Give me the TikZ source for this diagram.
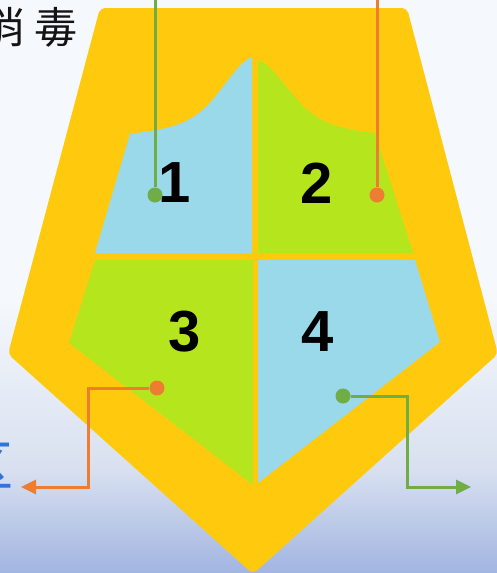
\documentclass[tikz,border=0pt]{standalone}
\usepackage{fontspec}
\usetikzlibrary{arrows.meta}
\newfontfamily\cjkfont{Noto Sans CJK TC}
\newfontfamily\numfont{Liberation Sans}
\definecolor{gold}{HTML}{FFC90E}
\definecolor{skyblue}{HTML}{99D9EA}
\definecolor{limegreen}{HTML}{B5E61D}
\definecolor{leafgreen}{HTML}{70AD47}
\definecolor{carrot}{HTML}{ED7D31}
\definecolor{bluechar}{HTML}{2F74D8}
\tikzset{
  num/.style={font=\numfont\bfseries\fontsize{58}{58}\selectfont, inner sep=0pt},
  spot/.style={circle, fill=#1, inner sep=0pt, minimum size=15pt},
  lead/.style={draw=#1, line width=3pt},
}
\begin{document}
\begin{tikzpicture}[x=1pt,y=-1pt]
\useasboundingbox (0,0) rectangle (497,573);
\clip (0,0) rectangle (497,573);

% background
\fill[color={rgb,255:red,245;green,248;blue,252}] (0,0) rectangle (497,300);
\shade[top color={rgb,255:red,245;green,248;blue,252}, bottom color={rgb,255:red,216;green,224;blue,240}] (0,299.5) rectangle (497,470);
\shade[top color={rgb,255:red,216;green,224;blue,240}, bottom color={rgb,255:red,162;green,181;blue,225}] (0,469.5) rectangle (497,573);

% frame
\fill[gold, rounded corners=5pt] (100,8) -- (407,8) -- (498,354) -- (253,574) -- (8,354) -- cycle;

% four zones
\fill[skyblue] (130,134) -- (150,131) .. controls (185,126) and (200,115) .. (215,97)
   .. controls (230,78) and (240,62) .. (252,57) -- (252,253) -- (95,253) -- cycle;
\fill[limegreen] (258,60) .. controls (270,64) and (280,80) .. (295,97)
   .. controls (310,115) and (325,126) .. (360,131) -- (375,133) -- (413,253) -- (258,253) -- cycle;
\fill[limegreen] (95,260) -- (253,260) -- (253,485) -- (69,343) -- cycle;
\fill[skyblue] (258,260) -- (415,260) -- (440,342) -- (258,483) -- cycle;

\node[num] (n1) at (175,183) {1};
\node[num] (n2) at (317,183) {2};
\node[num] (n3) at (185,332) {3};
\node[num] (n4) at (318,332) {4};

% texts
\node[font=\cjkfont\fontsize{43}{43}\selectfont, text={rgb,255:red,20;green,20;blue,20}, anchor=east, inner sep=0pt] (title) at (78,27) {消\kern9pt毒};
\node[font=\cjkfont\fontsize{54}{54}\selectfont, text=bluechar, anchor=east, inner sep=0pt] (area) at (14,466) {区};

% markers and leads
\node[spot=leafgreen] (d1) at (155,195) {};
\node[spot=carrot] (d2) at (377,195) {};
\node[spot=carrot] (d3) at (157,388) {};
\node[spot=leafgreen] (d4) at (343,396) {};
\coordinate (t1) at (155,-3);
\coordinate (t2) at (377,-3);
\coordinate (k3) at (88,388);
\coordinate (e3) at (21,487);
\coordinate (k4) at (407,396);
\coordinate (e4) at (471,487);

\draw[lead=leafgreen] (d1) -- (t1);
\draw[lead=carrot] (d2) -- (t2);
\draw[lead=carrot, -{Triangle[length=15pt,width=14pt]}] (d3) -- (k3) |- (e3);
\draw[lead=leafgreen, -{Triangle[length=15pt,width=14pt]}] (d4) -- (k4) |- (e4);

\end{tikzpicture}
\end{document}
